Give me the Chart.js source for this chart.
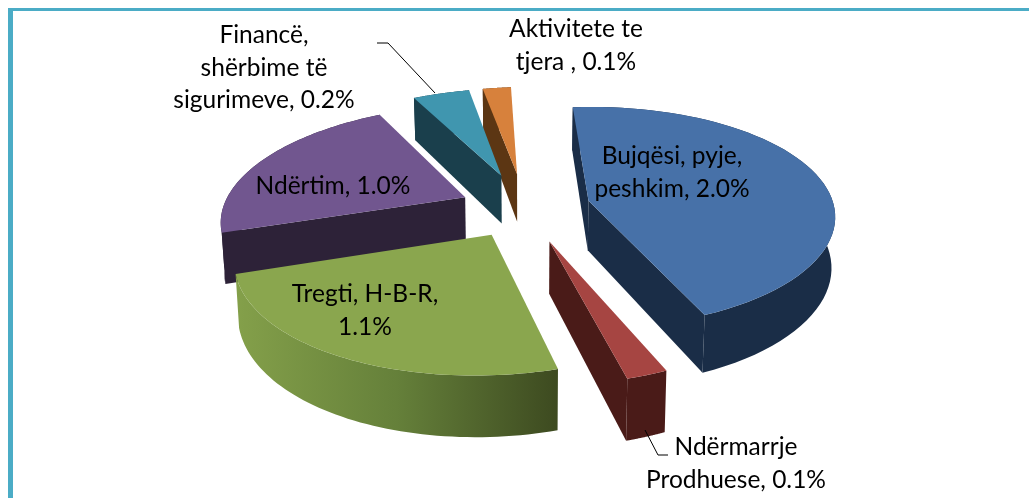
<!DOCTYPE html>
<html>
<head>
<meta charset="utf-8">
<style>
  html, body { margin: 0; padding: 0; background: #fff; }
  #wrap { position: relative; width: 1029px; height: 498px; overflow: hidden; }
  #frame { position: absolute; left: 8px; top: 8px; width: 1040px; height: 500px; border: solid #4bacc6; border-width: 3px 0 0 5px; box-sizing: border-box; }
  canvas { position: absolute; left: 0; top: 0; }
</style>
<script src="https://cdn.jsdelivr.net/npm/chart.js@4"></script>
</head>
<body>
<div id="wrap">
  <div id="frame"></div>
  <canvas id="pie" width="1029" height="498"></canvas>
</div>
<script>
const categories = ['Bujqësi, pyje, peshkim', 'Ndërmarrje Prodhuese', 'Tregti, H-B-R', 'Ndërtim', 'Financë, shërbime të sigurimeve', 'Aktivitete te tjera'];
const values = [2.0, 0.1, 1.1, 1.0, 0.2, 0.1];

// look of the slices
const topColors = ['#4771a8', '#a64542', '#8aa64e', '#71568f', '#4096af', '#d7813c'];
const wallColors = ['#1a2d47', '#4a1b18', '#4d6029', '#2d2238', '#1a3f4c', '#5c3613'];
const explode = [59, 68, 58, 60, 72, 72];
const drawOrder = [5, 4, 0, 3, 1, 2];

// label lines per slice: text, centre x, baseline y
const labelLines = [
  [['Bujqësi, pyje,', 672, 164], ['peshkim, 2.0%', 672, 197]],
  [['Ndërmarrje', 736, 455], ['Prodhuese, 0.1%', 736, 488]],
  [['Tregti, H-B-R,', 365, 302], ['1.1%', 365, 335]],
  [['Ndërtim, 1.0%', 333, 194]],
  [['Financë,', 264, 43], ['shërbime të', 264, 76], ['sigurimeve, 0.2%', 264, 108]],
  [['Aktivitete te', 576, 37], ['tjera , 0.1%', 576, 70]]
];
const leaders = [
  [[377, 43], [388, 43], [435, 93]],
  [[645, 430], [658, 455], [668, 455]]
];

// perspective of the tilted pie
const P = 0.0007, SX = 1.11, SY = 0.5, TILT = -0.02, DEPTH = 50, SHRINK = 0.988;

function project(arc, a, o, rad) {
  const mid = (arc.startAngle + arc.endAngle) / 2;
  const u = Math.cos(mid) * o + Math.cos(a) * rad;
  const v = Math.sin(mid) * o + Math.sin(a) * rad;
  const w = 1 - P * v;
  const x = arc.x + SX * u / w;
  const y = arc.y + SY * v / w + TILT * SX * u / w;
  return { x, y, bx: arc.x + (x - arc.x) * SHRINK, by: y + DEPTH / w };
}

function fillPoly(ctx, pts, color) {
  ctx.beginPath();
  pts.forEach((p, i) => i ? ctx.lineTo(p[0], p[1]) : ctx.moveTo(p[0], p[1]));
  ctx.closePath();
  ctx.fillStyle = color;
  ctx.fill();
}

function drawSlice(ctx, arc, i) {
  const o = arc.options.offset;
  const rim = [];
  const steps = 60;
  for (let s = 0; s <= steps; s++) {
    rim.push(project(arc, arc.startAngle + (arc.endAngle - arc.startAngle) * s / steps, o, arc.outerRadius));
  }
  const tip = project(arc, arc.startAngle, o, 0);
  const first = rim[0], last = rim[steps];

  let wall = wallColors[i];
  if (i === 2) {
    wall = ctx.createLinearGradient(last.x, 0, first.x, 0);
    wall.addColorStop(0, '#84a04a');
    wall.addColorStop(0.5, '#65803a');
    wall.addColorStop(1, '#3d4a20');
  }
  // outer wall
  const wallPts = rim.map(p => [p.x, p.y]).concat(rim.slice().reverse().map(p => [p.bx, p.by]));
  fillPoly(ctx, wallPts, wall);
  // cut faces, only the ones turned towards the viewer
  if (first.x < tip.x) fillPoly(ctx, [[tip.x, tip.y], [first.x, first.y], [first.bx, first.by], [tip.bx, tip.by]], wallColors[i]);
  if (last.x > tip.x) fillPoly(ctx, [[tip.x, tip.y], [last.x, last.y], [last.bx, last.by], [tip.bx, tip.by]], wallColors[i]);
  // top
  fillPoly(ctx, [[tip.x, tip.y]].concat(rim.map(p => [p.x, p.y])), topColors[i]);
}

const pie3d = {
  id: 'pie3d',
  beforeDatasetDraw(chart, args) {
    const ctx = chart.ctx;
    const arcs = args.meta.data;
    ctx.save();
    drawOrder.forEach(i => drawSlice(ctx, arcs[i], i));
    ctx.restore();
    return false;
  },
  afterDraw(chart) {
    const ctx = chart.ctx;
    ctx.save();
    ctx.strokeStyle = '#000';
    ctx.lineWidth = 1;
    leaders.forEach(line => {
      ctx.beginPath();
      line.forEach((p, i) => i ? ctx.lineTo(p[0], p[1]) : ctx.moveTo(p[0], p[1]));
      ctx.stroke();
    });
    ctx.fillStyle = '#000';
    ctx.font = '24.5px Lato';
    ctx.textAlign = 'center';
    labelLines.forEach(lines => lines.forEach(l => ctx.fillText(l[0], l[1], l[2])));
    ctx.restore();
  }
};

new Chart(document.getElementById('pie'), {
  type: 'pie',
  data: {
    labels: categories,
    datasets: [{ data: values, backgroundColor: topColors, offset: explode, borderWidth: 0 }]
  },
  options: {
    responsive: false,
    animation: false,
    rotation: -2,
    radius: 220,
    layout: { padding: { left: 21, bottom: 82 } },
    plugins: { legend: { display: false }, tooltip: { enabled: false } }
  },
  plugins: [pie3d]
});
</script>
</body>
</html>
